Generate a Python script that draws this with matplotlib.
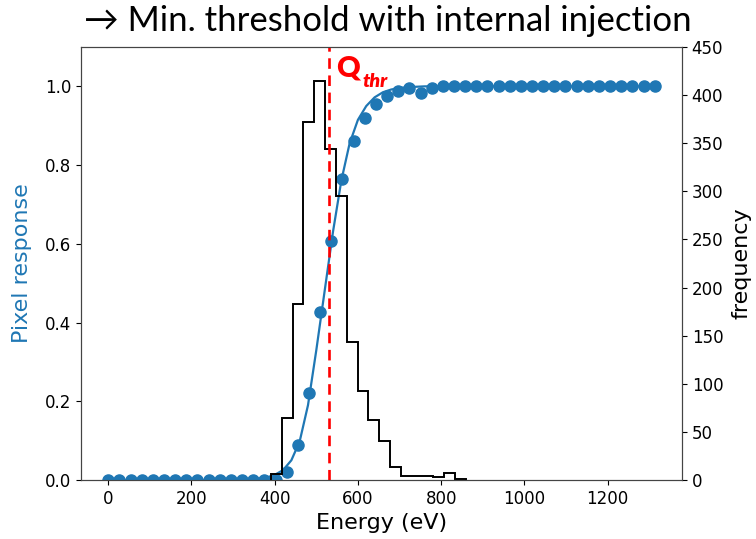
import matplotlib
matplotlib.use("Agg")
import matplotlib.pyplot as plt

# ---- data ----
energy = [0.0, 26.8, 53.6, 80.4, 107.2, 134.0, 160.8, 187.6, 214.4, 241.2,
          268.0, 294.8, 321.6, 348.4, 375.2, 402.0, 428.8, 455.6, 482.4, 509.2,
          536.0, 562.8, 589.6, 616.4, 643.2, 670.0, 696.8, 723.6, 750.4, 777.2,
          804.0, 830.8, 857.6, 884.4, 911.2, 938.0, 964.8, 991.6, 1018.4, 1045.2,
          1072.0, 1098.8, 1125.6, 1152.4, 1179.2, 1206.0, 1232.8, 1259.6, 1286.4, 1313.2]
response = [0.0, 0.0, 0.0, 0.0, 0.0, 0.0, 0.0, 0.0, 0.0, 0.0,
            0.0, 0.0, 0.0, 0.0, 0.0, 0.0, 0.021, 0.088, 0.222, 0.426,
            0.607, 0.764, 0.861, 0.920, 0.955, 0.975, 0.989, 0.996, 0.983, 0.996,
            1.0, 1.0, 1.0, 1.0, 1.0, 1.0, 1.0, 1.0, 1.0, 1.0,
            1.0, 1.0, 1.0, 1.0, 1.0, 1.0, 1.0, 1.0, 1.0, 1.0]

fit_energy = [0, 300, 340, 360, 380, 400, 420, 440, 460, 480, 500, 520, 540,
              560, 580, 600, 620, 640, 660, 680, 700, 720, 740, 760, 800, 1313.2]
fit_response = [0.0, 0.0, 0.001, 0.003, 0.006, 0.013, 0.025, 0.050, 0.098, 0.19,
                0.33, 0.48, 0.63, 0.76, 0.855, 0.915, 0.95, 0.972, 0.985, 0.992,
                0.996, 0.998, 0.999, 1.0, 1.0, 1.0]

hist_edges = [391, 417, 443, 469, 495, 521, 547, 573, 599, 625, 651, 677,
              703, 729, 755, 781, 807, 833, 859]
hist_counts = [6, 64, 183, 372, 415, 344, 295, 143, 92, 62, 40, 13,
               4, 4, 4, 3, 7, 1]

q_thr = 530

title_text = "\u2192 Min. threshold with internal injection"

# ---- figure ----
fig = plt.figure(figsize=(7.56, 5.39), dpi=100)
ax = fig.add_axes([0.1071, 0.1095, 0.7950, 0.8033])

blue = "#1f77b4"
ax.plot(fit_energy, fit_response, color=blue, lw=1.6, zorder=2)
ax.plot(energy, response, "o", color=blue, ms=8, zorder=3)
ax.set_ylim(0, 1.1)
ax.set_xlim(-65.6, 1378.8)
ax.set_yticks([0.0, 0.2, 0.4, 0.6, 0.8, 1.0])
ax.set_xticks([0, 200, 400, 600, 800, 1000, 1200])
ax.tick_params(labelsize=12)
ax.set_xlabel("Energy (eV)", fontsize=16)
ax.set_ylabel("Pixel response", fontsize=16, color=blue, labelpad=9)

ax2 = ax.twinx()
ax2.stairs(hist_counts, hist_edges, color="black", lw=1.4, baseline=0)
ax2.axvline(q_thr, color="red", ls=(0, (4, 2.5)), lw=1.9)
ax2.set_ylim(0, 450)
ax2.set_yticks([0, 50, 100, 150, 200, 250, 300, 350, 400, 450])
ax2.tick_params(labelsize=12)
ax2.set_ylabel("frequency", fontsize=16, labelpad=6)
ax2.set_xlim(-65.6, 1378.8)

for a in (ax, ax2):
    for s in a.spines.values():
        s.set_color("#444444")

# Q_thr label
fig.text(336 / 756, 1 - 76 / 539, "Q", color="red", fontsize=21,
         fontweight="heavy", family=["Lato", "DejaVu Sans"])
fig.text(362 / 756, 1 - 87 / 539, "thr", color="red", fontsize=14,
         fontweight="heavy", style="italic", family=["Lato", "DejaVu Sans"])

fig.text(388 / 756, 1 - 21 / 539, title_text, ha="center", va="center",
         fontsize=25, family=["Lato", "DejaVu Sans"])

fig.savefig("out.png", dpi=100)
